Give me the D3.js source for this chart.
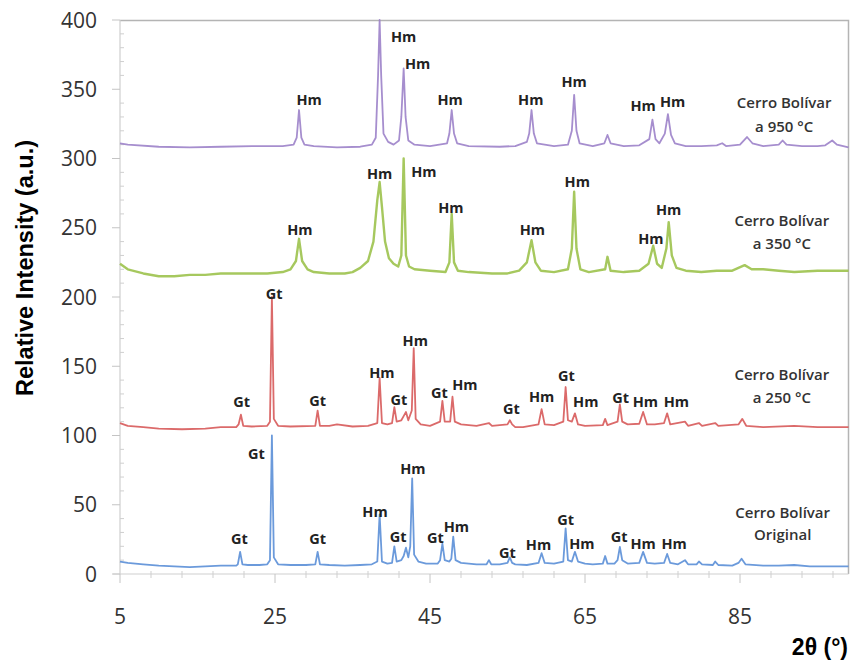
<!DOCTYPE html>
<html lang="es">

<head>
    <meta charset="UTF-8">
    <title>XRD Cerro Bolívar</title>
    <style>
        body {
            margin: 0;
            background: #fff;
        }

        svg {
            display: block;
        }

        .tick-label {
            font-family: "Open Sans", sans-serif;
            font-size: 21px;
            fill: #333;
        }

        .peak {
            font-family: "Open Sans", sans-serif;
            font-weight: 700;
            font-size: 14.5px;
            fill: #222;
        }

        .serie {
            font-family: "Open Sans", sans-serif;
            font-weight: 600;
            font-size: 15px;
            fill: #333;
        }
    </style>
</head>

<body>
    <div id="target"></div>

    <script src="https://d3js.org/d3.v7.min.js"></script>
    <script>
        // patterns: [2theta, intensity]
        const original = [[5, 9], [6, 8], [8, 7], [10, 6], [12, 5.5], [14, 5], [16, 5.5], [18, 6], [20, 6], [20.2, 7], [20.5, 16], [20.8, 7], [21.5, 6.5], [23, 6.5], [24, 7], [24.35, 10], [24.6, 100], [24.85, 12], [25.4, 7], [27, 6.5], [29, 6.5], [30.2, 7], [30.5, 16], [30.8, 7], [32, 6.5], [34, 6], [36, 6.5], [37.5, 7], [38.2, 9], [38.5, 43], [38.8, 9], [39.5, 7.5], [40.1, 8], [40.4, 20], [40.7, 9], [41.3, 10], [41.6, 13], [41.9, 19], [42.2, 12], [42.45, 20], [42.7, 69], [42.95, 14], [43.5, 9], [44.5, 7.5], [46, 7.5], [46.3, 10], [46.6, 22], [46.9, 10], [47.5, 9], [47.75, 11], [48.0, 27], [48.3, 10], [49, 8], [51, 7], [52.3, 7], [52.6, 10], [52.9, 7], [54, 7], [55.0, 8], [55.3, 12], [55.6, 8], [56, 7], [57.5, 6.5], [59.0, 8], [59.4, 15], [59.8, 8], [61, 7.5], [62.2, 9], [62.5, 33], [62.8, 10], [63.3, 9], [63.7, 16], [64.1, 9], [65, 7.5], [66, 7], [67.3, 7.5], [67.6, 13], [67.9, 7.5], [68.8, 7.5], [69.2, 10], [69.5, 19.5], [69.8, 10], [70.5, 7.5], [72, 8], [72.5, 16], [73, 8], [74, 7.5], [75.2, 8], [75.6, 14.5], [76, 8], [77, 7], [77.9, 10], [78.3, 7], [79.4, 7], [79.7, 9], [80.1, 7], [81.5, 6.5], [81.8, 9], [82.2, 6.5], [84, 6], [84.8, 8], [85.2, 11], [85.7, 7], [88, 6], [90, 6], [92, 6.5], [94, 5.5], [96, 5.5], [99, 5.5]];

        const c250 = [[5, 109], [6, 107], [8, 106], [10, 105], [13, 104.5], [16, 105], [18, 106], [20, 106], [20.3, 108], [20.6, 115], [20.9, 107], [22, 106.5], [24, 107], [24.35, 110], [24.6, 200], [24.85, 112], [25.4, 107], [27, 106.5], [30.2, 107], [30.5, 118], [30.8, 107], [32, 107], [33, 108], [35, 106.5], [37, 107], [38.2, 109], [38.5, 141.5], [38.8, 109], [39.5, 108], [40.1, 109], [40.4, 120.5], [40.7, 110], [41.3, 111], [41.6, 114], [41.9, 117], [42.2, 111], [42.65, 118], [42.9, 163], [43.15, 112], [43.8, 108], [45, 107], [46.3, 110], [46.6, 125], [46.9, 110], [47.6, 110], [47.9, 128], [48.2, 110], [49, 108], [51, 107], [52.6, 109], [53, 107], [55, 108], [55.3, 111], [55.6, 108], [56, 106], [57, 106], [59.0, 108], [59.4, 119], [59.8, 108], [61, 107.5], [62.2, 110], [62.5, 135], [62.8, 111], [63.3, 110], [63.7, 116], [64.1, 108], [65, 107], [67.3, 107.5], [67.6, 112], [67.9, 107.5], [69.2, 110], [69.5, 122.5], [69.8, 110], [70.5, 108], [72, 108.5], [72.5, 117], [73, 108], [74, 108], [75.2, 109], [75.6, 116], [76, 108], [77.9, 110], [78.3, 107], [79.7, 109], [80.1, 107], [81.8, 109], [82.2, 107], [84.8, 108], [85.3, 112], [85.8, 107], [88, 106], [92, 107], [95, 106], [99, 106]];

        const c350 = [[5, 224], [6, 220], [8, 217], [10, 215], [12, 215], [14, 216], [16, 216], [18, 217], [20, 217], [22, 217], [24, 217], [26, 218], [27, 220], [27.7, 226], [28.1, 242], [28.5, 226], [29.2, 220], [30, 218], [32, 217], [34, 217], [35, 218], [36, 221], [37, 226], [37.7, 240], [38.2, 270], [38.5, 283], [38.8, 265], [39.2, 240], [39.7, 228], [40.3, 224], [40.9, 222], [41.3, 230], [41.6, 300], [41.9, 230], [42.3, 222], [43, 220], [45, 219], [47, 218], [47.5, 225], [47.8, 260], [48.1, 225], [48.6, 219], [50, 218], [53, 217], [55, 217], [56.5, 219], [57.5, 225], [58.1, 241], [58.6, 225], [59.3, 219], [61, 218], [62.8, 220], [63.3, 235], [63.6, 276], [63.9, 235], [64.4, 220], [65.5, 218], [67.6, 220], [67.9, 229], [68.3, 219], [70, 218], [72, 219], [73.2, 224], [73.8, 237], [74.3, 224], [74.9, 221], [75.5, 235], [75.8, 254], [76.2, 230], [76.8, 221], [78, 219], [80, 218], [82, 219], [84, 219], [85.6, 223], [86.5, 220], [88, 220], [90, 219], [92, 218], [95, 219], [99, 219]];

        const c950 = [[5, 311], [6, 310], [10, 308.5], [14, 308], [18, 308.5], [22, 309], [26, 309], [27.4, 310], [27.8, 315], [28.1, 335], [28.4, 315], [28.8, 310], [30, 309], [33, 308], [36, 308.5], [37.5, 310], [38.0, 315], [38.3, 360], [38.5, 400], [38.7, 360], [39.0, 318], [39.6, 312], [40.3, 310], [41.0, 313], [41.3, 330], [41.6, 365], [41.85, 330], [42.2, 313], [43, 310], [45, 309], [47.2, 311], [47.5, 318], [47.8, 335], [48.1, 318], [48.5, 311], [50, 309], [54, 308.5], [56, 309], [57.5, 312], [57.8, 318], [58.1, 335], [58.4, 318], [58.8, 311], [61, 309], [62.8, 310], [63.3, 320], [63.6, 346], [63.9, 320], [64.3, 311], [66, 309], [67.5, 311], [67.9, 317], [68.3, 311], [70, 309], [72, 309.5], [73.3, 314], [73.7, 328], [74.1, 314], [74.6, 311], [75.3, 318], [75.7, 332], [76.1, 317], [76.6, 311], [78, 309], [80, 309], [82, 309.5], [82.7, 311], [83.2, 309], [85, 310], [85.9, 315.5], [86.6, 311], [88, 309], [90, 310], [90.5, 313], [91, 310], [93, 309], [95, 309], [96, 309.5], [96.9, 313], [97.5, 310], [99, 308]];

        // peak labels: [text, 2theta, intensity]
        const labOriginal = [["Gt", 20.4, 25], ["Gt", 22.6, 87], ["Gt", 30.5, 25], ["Hm", 37.9, 45], ["Gt", 40.9, 26.5], ["Hm", 42.8, 76], ["Gt", 45.7, 26], ["Hm", 48.4, 34], ["Gt", 55.0, 15], ["Hm", 59.0, 21], ["Gt", 62.5, 39], ["Hm", 64.6, 22], ["Gt", 69.4, 27], ["Hm", 72.5, 21.5], ["Hm", 76.5, 21.5]];
        const lab250 = [["Gt", 20.7, 124.5], ["Gt", 24.9, 202], ["Gt", 30.5, 125], ["Hm", 38.8, 145], ["Gt", 41.0, 125.5], ["Hm", 43.1, 168.5], ["Gt", 46.2, 130.5], ["Hm", 49.5, 136.5], ["Gt", 55.5, 119], ["Hm", 59.4, 128], ["Gt", 62.6, 143], ["Hm", 65.1, 124.5], ["Gt", 69.6, 127], ["Hm", 72.8, 124.5], ["Hm", 76.8, 124.5]];
        const lab350 = [["Hm", 28.2, 248.5], ["Hm", 38.5, 289], ["Hm", 44.2, 290], ["Hm", 47.7, 264], ["Hm", 58.2, 248.5], ["Hm", 64.0, 283], ["Hm", 73.5, 242], ["Hm", 75.8, 263]];
        const lab950 = [["Hm", 29.4, 342], ["Hm", 41.6, 388], ["Hm", 43.4, 368], ["Hm", 47.6, 342], ["Hm", 58.0, 342], ["Hm", 63.6, 355.5], ["Hm", 72.5, 338], ["Hm", 76.3, 341]];

        // sample names: [line 1, line 2, 2theta, intensity of line 1, intensity of line 2]
        const sampleNames = [["Cerro Bolívar", "Original", 90.5, 44.3, 28.2], ["Cerro Bolívar", "a 250 °C", 90.4, 143.7, 126.9], ["Cerro Bolívar", "a 350 °C", 90.4, 255, 238.8], ["Cerro Bolívar", "a 950 °C", 90.7, 340, 323]];

        const xTicks = [5, 25, 45, 65, 85];
        const yTicks = [0, 50, 100, 150, 200, 250, 300, 350, 400];

        const series = [
            { data: original, labels: labOriginal, color: "#5b8fd7", w: 1.8 },
            { data: c250, labels: lab250, color: "#d75a5a", w: 1.8 },
            { data: c350, labels: lab350, color: "#9cc24c", w: 2.4 },
            { data: c950, labels: lab950, color: "#9c82c9", w: 1.8 }
        ];

        const width = 853;
        const height = 660;

        const svg = d3.select("#target")
            .append("svg")
            .attr("width", width)
            .attr("height", height);

        const x = d3.scaleLinear().domain([5, 99]).range([120, 848.5]);
        const y = d3.scaleLinear().domain([0, 400]).range([574, 20]);

        // frame (top + right)
        svg.append("path")
            .attr("d", `M${x(5)},${y(400) + 0.5}H${x(99)}V${y(0)}`)
            .attr("fill", "none")
            .attr("stroke", "#b4b4b4")
            .attr("stroke-width", 1.5);

        // y axis
        const yAxis = svg.append("g").attr("transform", `translate(${x(5)},0)`);
        yAxis.append("line")
            .attr("y1", y(0)).attr("y2", y(400))
            .attr("stroke", "#cfcfcf").attr("stroke-width", 1.2);
        yAxis.selectAll(".minor")
            .data(d3.range(0, 401, 10).filter(d => d % 50 !== 0))
            .join("line")
            .attr("x1", 0).attr("x2", 4)
            .attr("y1", d => y(d)).attr("y2", d => y(d))
            .attr("stroke", "#cfcfcf");
        yAxis.selectAll(".major")
            .data(yTicks)
            .join("line")
            .attr("x1", -8).attr("x2", 0)
            .attr("y1", d => y(d)).attr("y2", d => y(d))
            .attr("stroke", "#c4c4c4");
        yAxis.selectAll("text")
            .data(yTicks)
            .join("text")
            .attr("class", "tick-label")
            .attr("x", -23)
            .attr("y", d => y(d))
            .attr("dy", "0.36em")
            .attr("text-anchor", "end")
            .text(d => d);

        // x axis
        const xAxis = svg.append("g").attr("transform", `translate(0,${y(0)})`);
        xAxis.append("line")
            .attr("x1", x(5) - 7).attr("x2", x(99))
            .attr("stroke", "#cfcfcf").attr("stroke-width", 1.2);
        xAxis.selectAll(".minor")
            .data(d3.range(9, 99, 4).filter(d => (d - 5) % 20 !== 0))
            .join("line")
            .attr("x1", d => x(d)).attr("x2", d => x(d))
            .attr("y1", -3).attr("y2", 4)
            .attr("stroke", "#cfcfcf");
        xAxis.selectAll(".major")
            .data(xTicks)
            .join("line")
            .attr("x1", d => x(d)).attr("x2", d => x(d))
            .attr("y1", 0).attr("y2", 9)
            .attr("stroke", "#c4c4c4");
        xAxis.selectAll("text")
            .data(xTicks)
            .join("text")
            .attr("class", "tick-label")
            .attr("x", d => x(d))
            .attr("y", 50)
            .attr("text-anchor", "middle")
            .text(d => d);

        // traces
        const line = d3.line()
            .x(d => x(d[0]))
            .y(d => y(d[1]));

        svg.selectAll(".trace")
            .data(series)
            .join("path")
            .attr("class", "trace")
            .attr("d", d => line(d.data))
            .attr("fill", "none")
            .attr("stroke", d => d.color)
            .attr("stroke-width", d => d.w)
            .attr("stroke-opacity", 0.9)
            .attr("stroke-linejoin", "round");

        // peak labels
        series.forEach(s => {
            svg.append("g").selectAll("text")
                .data(s.labels)
                .join("text")
                .attr("class", "peak")
                .attr("x", d => x(d[1]))
                .attr("y", d => y(d[2]))
                .attr("dy", "0.35em")
                .attr("text-anchor", "middle")
                .text(d => d[0]);
        });

        // sample names
        const names = svg.append("g").selectAll("g")
            .data(sampleNames)
            .join("g");
        names.append("text")
            .attr("class", "serie")
            .attr("x", d => x(d[2]))
            .attr("y", d => y(d[3]))
            .attr("dy", "0.35em")
            .attr("text-anchor", "middle")
            .text(d => d[0]);
        names.append("text")
            .attr("class", "serie")
            .attr("x", d => x(d[2]))
            .attr("y", d => y(d[4]))
            .attr("dy", "0.35em")
            .attr("text-anchor", "middle")
            .text(d => d[1]);

        // axis titles
        svg.append("text")
            .attr("transform", "translate(33,268) rotate(-90)")
            .attr("text-anchor", "middle")
            .style("font-family", "Liberation Sans, Arial, sans-serif")
            .style("font-weight", "bold")
            .style("font-size", "23.5px")
            .attr("fill", "#000")
            .text("Relative Intensity (a.u.)");

        svg.append("text")
            .attr("x", 848)
            .attr("y", 655)
            .attr("text-anchor", "end")
            .style("font-family", "Liberation Sans, Arial, sans-serif")
            .style("font-weight", "bold")
            .style("font-size", "23px")
            .attr("fill", "#000")
            .text("2θ (°)");
    </script>
</body>

</html>
